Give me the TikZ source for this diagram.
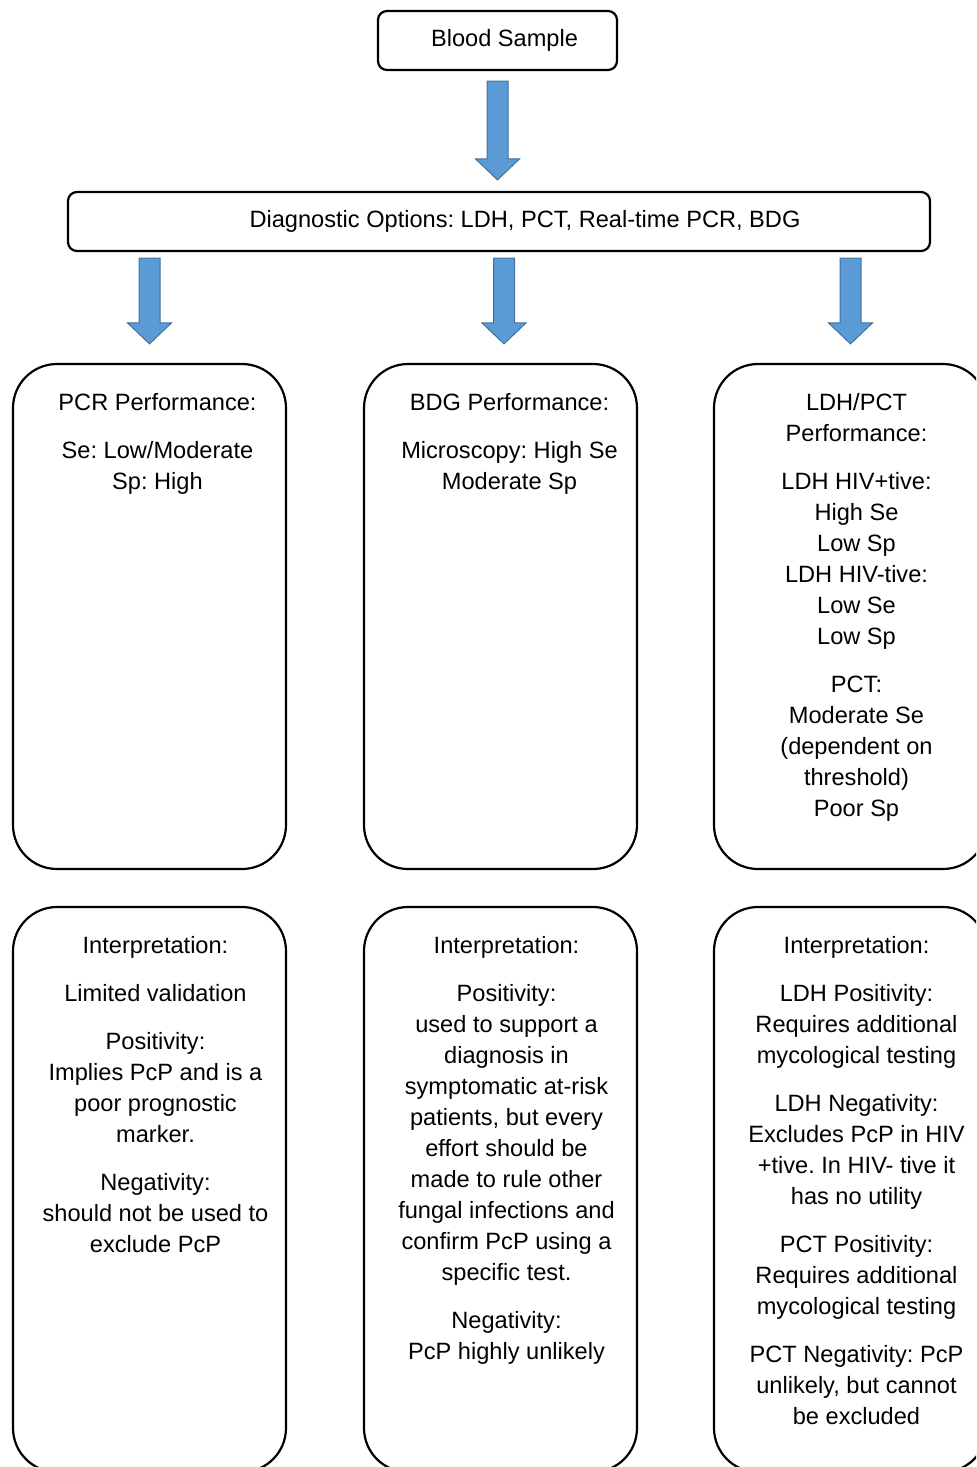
\documentclass[tikz,border=0pt]{standalone}
\usepackage{fontspec}
\setmainfont{Liberation Sans}
\usetikzlibrary{calc}
\frenchspacing
\definecolor{arrowfill}{HTML}{5B9BD5}
\definecolor{arrowline}{HTML}{41719C}
% block arrow from the top of its shaft (#1) down to its tip (#2)
\newcommand{\blockarrow}[2]{%
  \draw[flow] let \p1=(#1), \p2=(#2) in
    (\x1-5.25pt,\y1) -- (\x1-5.25pt,\y2+10.5pt) -- (\x1-11pt,\y2+10.5pt) -- (\x1,\y2)
    -- (\x1+11pt,\y2+10.5pt) -- (\x1+5.25pt,\y2+10.5pt) -- (\x1+5.25pt,\y1) -- cycle;}
\begin{document}
\begin{tikzpicture}[x=0.5pt, y=-0.5pt,
  every node/.style={font=\fontsize{11.8}{15.5}\selectfont},
  box/.style={draw, line width=1.1pt, rounded corners=4.5pt, minimum height=29.5pt},
  panel/.style={draw, line width=1.1pt, rounded corners=22pt, minimum width=136.5pt},
  txt/.style={anchor=north, align=center, inner sep=0pt, execute at begin node=\strut},
  flow/.style={draw=arrowline, fill=arrowfill, line width=0.5pt}]
\clip (0,0) rectangle (976,1467);
\node[box, minimum width=119.5pt] (blood) at (497.5,40.5) {\hspace*{7pt}Blood Sample};
\node[box, minimum width=431pt] (diag) at (499,221.5) {\hspace*{26pt}Diagnostic Options: LDH, PCT, Real-time PCR, BDG};
\node[panel, minimum height=252.5pt] (pcr) at (149.5,616.5) {};
\node[panel, minimum height=252.5pt] (bdg) at (500.5,616.5) {};
\node[panel, minimum height=252.5pt] (ldh) at (850.5,616.5) {};
\node[panel, minimum height=282.5pt] (pcrint) at (149.5,1189.5) {};
\node[panel, minimum height=282.5pt] (bdgint) at (500.5,1189.5) {};
\node[panel, minimum height=282.5pt] (ldhint) at (850.5,1189.5) {};
\node[txt] (pcrtxt) at ([xshift=4pt,yshift=-15pt]pcr.north)
  {PCR Performance:\\[8.5pt] Se: Low/Moderate\\ Sp: High};
\node[txt] (bdgtxt) at ([xshift=4.5pt,yshift=-15pt]bdg.north)
  {BDG Performance:\\[8.5pt] Microscopy: High Se\\ Moderate Sp};
\node[txt] (ldhtxt) at ([xshift=3pt,yshift=-15pt]ldh.north)
  {LDH/PCT\\ Performance:\\[8.5pt] LDH HIV+tive:\\ High Se\\ Low Sp\\ LDH HIV-tive:\\ Low Se\\ Low Sp\\[8.5pt]
   PCT:\\ Moderate Se\\ (dependent on\\ threshold)\\ Poor Sp};
\node[txt] (pcrinttxt) at ([xshift=3pt,yshift=-15pt]pcrint.north)
  {Interpretation:\\[8.5pt] Limited validation\\[8.5pt] Positivity:\\ Implies PcP and is a\\ poor prognostic\\ marker.\\[8.5pt]
   Negativity:\\ should not be used to\\ exclude PcP};
\node[txt] (bdginttxt) at ([xshift=3pt,yshift=-15pt]bdgint.north)
  {Interpretation:\\[8.5pt] Positivity:\\ used to support a\\ diagnosis in\\ symptomatic at-risk\\ patients, but every\\ effort should be\\
   made to rule other\\ fungal infections and\\ confirm PcP using a\\ specific test.\\[8.5pt] Negativity:\\ PcP highly unlikely};
\node[txt] (ldhinttxt) at ([xshift=3pt,yshift=-15pt]ldhint.north)
  {Interpretation:\\[8.5pt] LDH Positivity:\\ Requires additional\\ mycological testing\\[8.5pt] LDH Negativity:\\ Excludes PcP in HIV\\
   +tive. In HIV- tive it\\ has no utility\\[8.5pt] PCT Positivity:\\ Requires additional\\ mycological testing\\[8.5pt]
   PCT Negativity: PcP\\ unlikely, but cannot\\ be excluded};
\coordinate (a1) at ([yshift=-5pt]blood.south);
\coordinate (a1tip) at ([yshift=5.5pt]diag.north);
\coordinate (a2) at ($(diag.south -| pcr.north)+(0,-3pt)$);
\coordinate (a2tip) at ($(pcr.north)+(0,9.5pt)$);
\coordinate (a3) at ($(diag.south -| bdg.north)+(1.75pt,-3pt)$);
\coordinate (a3tip) at ($(bdg.north)+(1.75pt,9.5pt)$);
\coordinate (a4) at ($(diag.south -| ldh.north)+(0,-3pt)$);
\coordinate (a4tip) at ($(ldh.north)+(0,9.5pt)$);
\blockarrow{a1}{a1tip}
\blockarrow{a2}{a2tip}
\blockarrow{a3}{a3tip}
\blockarrow{a4}{a4tip}
\end{tikzpicture}
\end{document}
